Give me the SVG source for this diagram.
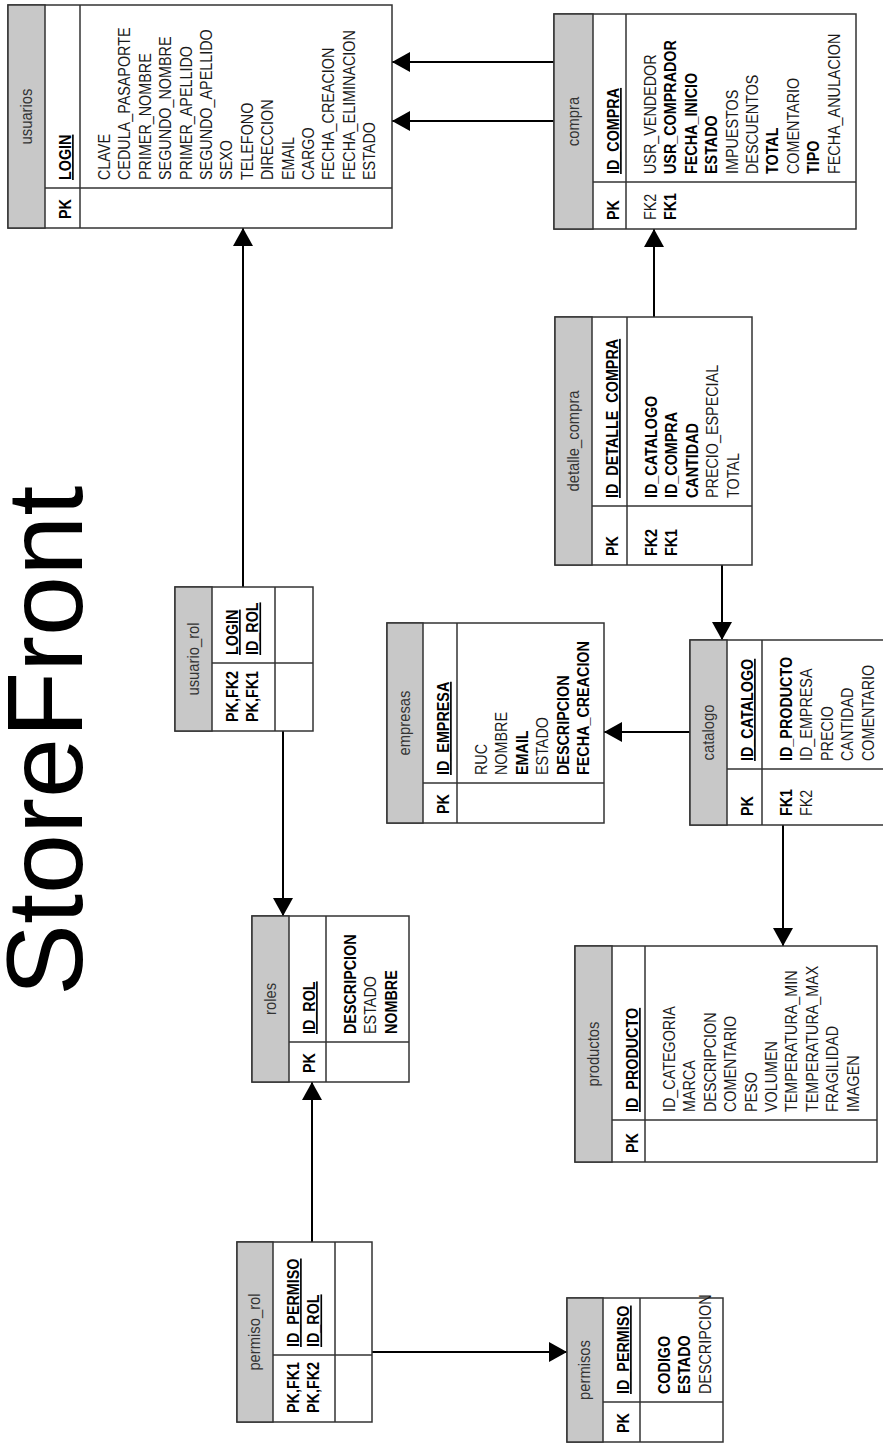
<svg xmlns="http://www.w3.org/2000/svg" width="883" height="1444" viewBox="0 0 883 1444">
<defs>
<style>
.box{fill:#fff;stroke:#333;stroke-width:1.5}
.hdr{fill:#c8c8c8;stroke:#333;stroke-width:1.5}
.ln{stroke:#333;stroke-width:1.5}
.t{font-family:"Liberation Sans",Arial,sans-serif;font-size:16.5px;fill:#1a1a1a}
.b{font-weight:bold;fill:#000}
.u{text-decoration:underline}
.h{font-family:"Liberation Sans",Arial,sans-serif;font-size:17px;fill:#333;text-anchor:middle}
.c{fill:none;stroke:#000;stroke-width:2;marker-end:url(#ah)}
.title{font-family:"Liberation Sans",Arial,sans-serif;font-size:108px;fill:#000}
</style>
<marker id="ah" markerUnits="userSpaceOnUse" viewBox="0 0 18 20" markerWidth="18" markerHeight="20" refX="18" refY="10" orient="auto">
<path d="M0,0 L18,10 L0,20 Z" fill="#000"/>
</marker>
</defs>
<rect width="883" height="1444" fill="#fff"/>

<text class="title" transform="matrix(0,-1,1,0,82,996)">StoreFront</text>

<g id="connectors">
<path class="c" d="M554,62 H392"/>
<path class="c" d="M554,121 H392"/>
<path class="c" d="M243,587 V228"/>
<path class="c" d="M283,731 V916"/>
<path class="c" d="M312,1242 V1082"/>
<path class="c" d="M372,1352 H567"/>
<path class="c" d="M654,317 V229"/>
<path class="c" d="M722,565 V640"/>
<path class="c" d="M690,732 H604"/>
<path class="c" d="M783,825 V946"/>
</g>

<g id="usuarios">
<rect class="box" x="8" y="5" width="384" height="223"/>
<rect class="hdr" x="8" y="5" width="37" height="223"/>
<line class="ln" x1="80" y1="5" x2="80" y2="228"/>
<line class="ln" x1="45" y1="188" x2="392" y2="188"/>
<text class="h" transform="matrix(0,-0.87,1,0,31.5,116.5)">usuarios</text>
<text class="t b u" transform="matrix(0,-0.87,1,0,71,180)">LOGIN</text>
<text class="t b" transform="matrix(0,-0.87,1,0,71,219)">PK</text>
<text class="t" transform="matrix(0,-0.87,1,0,110,180)"><tspan x="0" y="0">CLAVE</tspan><tspan x="0" y="20.4">CEDULA_PASAPORTE</tspan><tspan x="0" y="40.8">PRIMER_NOMBRE</tspan><tspan x="0" y="61.2">SEGUNDO_NOMBRE</tspan><tspan x="0" y="81.6">PRIMER_APELLIDO</tspan><tspan x="0" y="102">SEGUNDO_APELLIDO</tspan><tspan x="0" y="122.4">SEXO</tspan><tspan x="0" y="142.8">TELEFONO</tspan><tspan x="0" y="163.2">DIRECCION</tspan><tspan x="0" y="183.6">EMAIL</tspan><tspan x="0" y="204">CARGO</tspan><tspan x="0" y="224.4">FECHA_CREACION</tspan><tspan x="0" y="244.8">FECHA_ELIMINACION</tspan><tspan x="0" y="265.2">ESTADO</tspan></text>
</g>

<g id="compra">
<rect class="box" x="554" y="14" width="302" height="215"/>
<rect class="hdr" x="554" y="14" width="39" height="215"/>
<line class="ln" x1="626" y1="14" x2="626" y2="229"/>
<line class="ln" x1="593" y1="182" x2="856" y2="182"/>
<text class="h" transform="matrix(0,-0.87,1,0,578.5,121.5)">compra</text>
<text class="t b u" transform="matrix(0,-0.87,1,0,619,174)">ID_COMPRA</text>
<text class="t b" transform="matrix(0,-0.87,1,0,619,220)">PK</text>
<text class="t" transform="matrix(0,-0.87,1,0,656,174)"><tspan x="0" y="0">USR_VENDEDOR</tspan><tspan class="b" x="0" y="20.4">USR_COMPRADOR</tspan><tspan class="b" x="0" y="40.8">FECHA_INICIO</tspan><tspan class="b" x="0" y="61.2">ESTADO</tspan><tspan x="0" y="81.6">IMPUESTOS</tspan><tspan x="0" y="102">DESCUENTOS</tspan><tspan class="b" x="0" y="122.4">TOTAL</tspan><tspan x="0" y="142.8">COMENTARIO</tspan><tspan class="b" x="0" y="163.2">TIPO</tspan><tspan x="0" y="183.6">FECHA_ANULACION</tspan></text>
<text class="t" transform="matrix(0,-0.87,1,0,656,220)"><tspan x="0" y="0">FK2</tspan><tspan class="b" x="0" y="20.4">FK1</tspan></text>
</g>

<g id="detalle_compra">
<rect class="box" x="555" y="317" width="197" height="248"/>
<rect class="hdr" x="555" y="317" width="37" height="248"/>
<line class="ln" x1="627" y1="317" x2="627" y2="565"/>
<line class="ln" x1="592" y1="506" x2="752" y2="506"/>
<text class="h" transform="matrix(0,-0.87,1,0,578.5,441)">detalle_compra</text>
<text class="t b u" transform="matrix(0,-0.87,1,0,618,498)">ID_DETALLE_COMPRA</text>
<text class="t b" transform="matrix(0,-0.87,1,0,618,556)">PK</text>
<text class="t" transform="matrix(0,-0.87,1,0,657,498)"><tspan class="b" x="0" y="0">ID_CATALOGO</tspan><tspan class="b" x="0" y="20.4">ID_COMPRA</tspan><tspan class="b" x="0" y="40.8">CANTIDAD</tspan><tspan x="0" y="61.2">PRECIO_ESPECIAL</tspan><tspan x="0" y="81.6">TOTAL</tspan></text>
<text class="t b" transform="matrix(0,-0.87,1,0,657,556)"><tspan x="0" y="0">FK2</tspan><tspan x="0" y="20.4">FK1</tspan></text>
</g>

<g id="usuario_rol">
<rect class="box" x="175" y="587" width="138" height="144"/>
<rect class="hdr" x="175" y="587" width="37" height="144"/>
<line class="ln" x1="275" y1="587" x2="275" y2="731"/>
<line class="ln" x1="212" y1="663" x2="313" y2="663"/>
<text class="h" transform="matrix(0,-0.87,1,0,198.5,659)">usuario_rol</text>
<text class="t b u" transform="matrix(0,-0.87,1,0,238,655)"><tspan x="0" y="0">LOGIN</tspan><tspan x="0" y="20.4">ID_ROL</tspan></text>
<text class="t b" transform="matrix(0,-0.87,1,0,238,722)"><tspan x="0" y="0">PK,FK2</tspan><tspan x="0" y="20.4">PK,FK1</tspan></text>
</g>

<g id="empresas">
<rect class="box" x="387" y="623" width="217" height="200"/>
<rect class="hdr" x="387" y="623" width="36" height="200"/>
<line class="ln" x1="457" y1="623" x2="457" y2="823"/>
<line class="ln" x1="423" y1="783" x2="604" y2="783"/>
<text class="h" transform="matrix(0,-0.87,1,0,410,723)">empresas</text>
<text class="t b u" transform="matrix(0,-0.87,1,0,449,775)">ID_EMPRESA</text>
<text class="t b" transform="matrix(0,-0.87,1,0,449,814)">PK</text>
<text class="t" transform="matrix(0,-0.87,1,0,487,775)"><tspan x="0" y="0">RUC</tspan><tspan x="0" y="20.4">NOMBRE</tspan><tspan class="b" x="0" y="40.8">EMAIL</tspan><tspan x="0" y="61.2">ESTADO</tspan><tspan class="b" x="0" y="81.6">DESCRIPCION</tspan><tspan class="b" x="0" y="102">FECHA_CREACION</tspan></text>
</g>

<g id="catalogo">
<rect class="box" x="690" y="640" width="205" height="185"/>
<rect class="hdr" x="690" y="640" width="37" height="185"/>
<line class="ln" x1="762" y1="640" x2="762" y2="825"/>
<line class="ln" x1="727" y1="769" x2="895" y2="769"/>
<text class="h" transform="matrix(0,-0.87,1,0,713.5,732.5)">catalogo</text>
<text class="t b u" transform="matrix(0,-0.87,1,0,753,761)">ID_CATALOGO</text>
<text class="t b" transform="matrix(0,-0.87,1,0,753,816)">PK</text>
<text class="t" transform="matrix(0,-0.87,1,0,792,761)"><tspan class="b" x="0" y="0">ID_PRODUCTO</tspan><tspan x="0" y="20.4">ID_EMPRESA</tspan><tspan x="0" y="40.8">PRECIO</tspan><tspan x="0" y="61.2">CANTIDAD</tspan><tspan x="0" y="81.6">COMENTARIO</tspan></text>
<text class="t" transform="matrix(0,-0.87,1,0,792,816)"><tspan class="b" x="0" y="0">FK1</tspan><tspan x="0" y="20.4">FK2</tspan></text>
</g>

<g id="roles">
<rect class="box" x="252" y="916" width="157" height="166"/>
<rect class="hdr" x="252" y="916" width="37" height="166"/>
<line class="ln" x1="326" y1="916" x2="326" y2="1082"/>
<line class="ln" x1="289" y1="1042" x2="409" y2="1042"/>
<text class="h" transform="matrix(0,-0.87,1,0,275.5,999)">roles</text>
<text class="t b u" transform="matrix(0,-0.87,1,0,315,1034)">ID_ROL</text>
<text class="t b" transform="matrix(0,-0.87,1,0,315,1073)">PK</text>
<text class="t" transform="matrix(0,-0.87,1,0,356,1034)"><tspan class="b" x="0" y="0">DESCRIPCION</tspan><tspan x="0" y="20.4">ESTADO</tspan><tspan class="b" x="0" y="40.8">NOMBRE</tspan></text>
</g>

<g id="productos">
<rect class="box" x="575" y="946" width="302" height="216"/>
<rect class="hdr" x="575" y="946" width="37" height="216"/>
<line class="ln" x1="645" y1="946" x2="645" y2="1162"/>
<line class="ln" x1="612" y1="1120" x2="877" y2="1120"/>
<text class="h" transform="matrix(0,-0.87,1,0,598.5,1054)">productos</text>
<text class="t b u" transform="matrix(0,-0.87,1,0,638,1112)">ID_PRODUCTO</text>
<text class="t b" transform="matrix(0,-0.87,1,0,638,1153)">PK</text>
<text class="t" transform="matrix(0,-0.87,1,0,675,1112)"><tspan x="0" y="0">ID_CATEGORIA</tspan><tspan x="0" y="20.4">MARCA</tspan><tspan x="0" y="40.8">DESCRIPCION</tspan><tspan x="0" y="61.2">COMENTARIO</tspan><tspan x="0" y="81.6">PESO</tspan><tspan x="0" y="102">VOLUMEN</tspan><tspan x="0" y="122.4">TEMPERATURA_MIN</tspan><tspan x="0" y="142.8">TEMPERATURA_MAX</tspan><tspan x="0" y="163.2">FRAGILIDAD</tspan><tspan x="0" y="183.6">IMAGEN</tspan></text>
</g>

<g id="permiso_rol">
<rect class="box" x="237" y="1242" width="135" height="180"/>
<rect class="hdr" x="237" y="1242" width="36" height="180"/>
<line class="ln" x1="335" y1="1242" x2="335" y2="1422"/>
<line class="ln" x1="273" y1="1355" x2="372" y2="1355"/>
<text class="h" transform="matrix(0,-0.87,1,0,260,1332)">permiso_rol</text>
<text class="t b u" transform="matrix(0,-0.87,1,0,299,1347)"><tspan x="0" y="0">ID_PERMISO</tspan><tspan x="0" y="20.4">ID_ROL</tspan></text>
<text class="t b" transform="matrix(0,-0.87,1,0,299,1413)"><tspan x="0" y="0">PK,FK1</tspan><tspan x="0" y="20.4">PK,FK2</tspan></text>
</g>

<g id="permisos">
<rect class="box" x="567" y="1298" width="156" height="144"/>
<rect class="hdr" x="567" y="1298" width="36" height="144"/>
<line class="ln" x1="640" y1="1298" x2="640" y2="1442"/>
<line class="ln" x1="603" y1="1402" x2="723" y2="1402"/>
<text class="h" transform="matrix(0,-0.87,1,0,590,1370)">permisos</text>
<text class="t b u" transform="matrix(0,-0.87,1,0,629,1394)">ID_PERMISO</text>
<text class="t b" transform="matrix(0,-0.87,1,0,629,1433)">PK</text>
<text class="t" transform="matrix(0,-0.87,1,0,670,1394)"><tspan class="b" x="0" y="0">CODIGO</tspan><tspan class="b" x="0" y="20.4">ESTADO</tspan><tspan x="0" y="40.8">DESCRIPCION</tspan></text>
</g>
</svg>
